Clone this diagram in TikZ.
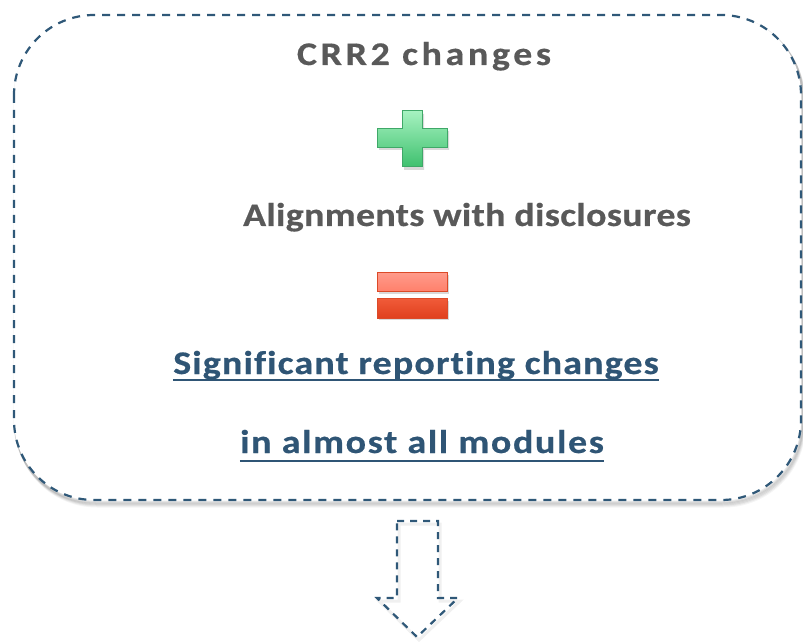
\documentclass[tikz,border=0pt]{standalone}
\usepackage{fontspec}
\setmainfont{Carlito}
\usetikzlibrary{calc}
\definecolor{dashblue}{HTML}{2F5878}
\definecolor{txtgray}{HTML}{595959}
\definecolor{txtblue}{HTML}{2F5575}
\definecolor{plusborder}{HTML}{3FA868}
\definecolor{plustop}{HTML}{A6F2C0}
\definecolor{plusbot}{HTML}{3EC06E}
\definecolor{eqborder}{HTML}{DC4A28}
\definecolor{eqtop}{HTML}{FF9A8A}
\definecolor{eqtopb}{HTML}{FF7F6A}
\definecolor{eqbot}{HTML}{F05A38}
\definecolor{eqbotb}{HTML}{E0401E}
\newfontfamily\boxfontA[FakeStretch=1.15,LetterSpace=11,BoldFeatures={FakeBold=0.5}]{Carlito}
\newfontfamily\boxfontB[FakeStretch=1.15,LetterSpace=1,BoldFeatures={FakeBold=0.5}]{Carlito}
\newfontfamily\boxfontC[FakeStretch=1.15,LetterSpace=3.5,Ligatures=NoCommon,BoldFeatures={FakeBold=0.5}]{Carlito}
\newfontfamily\boxfontD[FakeStretch=1.15,LetterSpace=5,BoldFeatures={FakeBold=0.5}]{Carlito}
\tikzset{
  dashline/.style={draw=dashblue, line width=2.2pt, dash pattern=on 8pt off 7pt},
  graytext/.style={text=txtgray, anchor=base, inner sep=0pt},
  bluetext/.style={text=txtblue, anchor=base, inner sep=0pt},
  uline/.style={draw=txtblue, line width=2pt},
}
\begin{document}
\begin{tikzpicture}[x=1pt,y=-1pt]
\useasboundingbox (0,0) rectangle (803,644);
% soft shadow
\foreach \o/\op in {6/0.04,5/0.05,4/0.06,3/0.07,2/0.08}{
  \draw[black, opacity=\op, line width=3pt, rounded corners=80pt] (14+\o/2,15+\o) rectangle (801+\o/2,500+\o);
}
\fill[white, rounded corners=80pt] (14,15) rectangle (801,500);
% main box
\draw[dashline, rounded corners=80pt] (14,15) rectangle (801,500);
% texts
\node[graytext, font=\boxfontA\fontsize{33}{36}\selectfont\bfseries] (t1) at (424,65) {CRR2 changes};
\node[graytext, font=\boxfontB\fontsize{33}{36}\selectfont\bfseries] (t2) at (467,226) {Alignments with disclosures};
\node[bluetext, font=\boxfontC\fontsize{33}{36}\selectfont\bfseries] (t3) at (416,374) {Significant reporting changes};
\node[bluetext, font=\boxfontD\fontsize{33}{36}\selectfont\bfseries] (t4) at (422,453) {in almost all modules};
\draw[uline] ($(t3.base west)+(0,6)$) -- ($(t3.base east)+(0,6)$);
\draw[uline] ($(t4.base west)+(0,8)$) -- ($(t4.base east)+(0,8)$);
% plus sign
\fill[black!15] (404,114)--(424,114)--(424,131)--(449,131)--(449,150)--(424,150)--(424,170)--(404,170)--(404,150)--(379,150)--(379,131)--(404,131)--cycle;
\shade[top color=plustop, bottom color=plusbot, draw=plusborder, line width=1pt]
  (402,111)--(422,111)--(422,129)--(447,129)--(447,148)--(422,148)--(422,167)--(402,167)--(402,148)--(377,148)--(377,129)--(402,129)--cycle;
% equals sign
\fill[black!15] (379,275) rectangle (449,294);
\fill[black!15] (379,301) rectangle (449,320);
\shade[top color=eqtop, bottom color=eqtopb, draw=eqborder, line width=1pt] (377,273) rectangle (447,292);
\shade[top color=eqbot, bottom color=eqbotb, draw=eqborder, line width=1pt] (377,299) rectangle (447,318);
% arrow
\coordinate (a1) at (397,521);
\coordinate (a2) at (438,521);
\coordinate (a3) at (438,598);
\coordinate (a4) at (458,598);
\coordinate (a5) at (417,637);
\coordinate (a6) at (377,598);
\coordinate (a7) at (397,598);
\draw[black, opacity=0.06, line width=3pt] ($(a1)+(2,3)$)--($(a2)+(2,3)$)--($(a3)+(2,3)$)--($(a4)+(2,3)$)--($(a5)+(2,3)$)--($(a6)+(2,3)$)--($(a7)+(2,3)$)--cycle;
\draw[dashline, dash pattern=on 7pt off 6pt, line join=miter] (a1)--(a2)--(a3)--(a4)--(a5)--(a6)--(a7)--cycle;
\end{tikzpicture}
\end{document}
